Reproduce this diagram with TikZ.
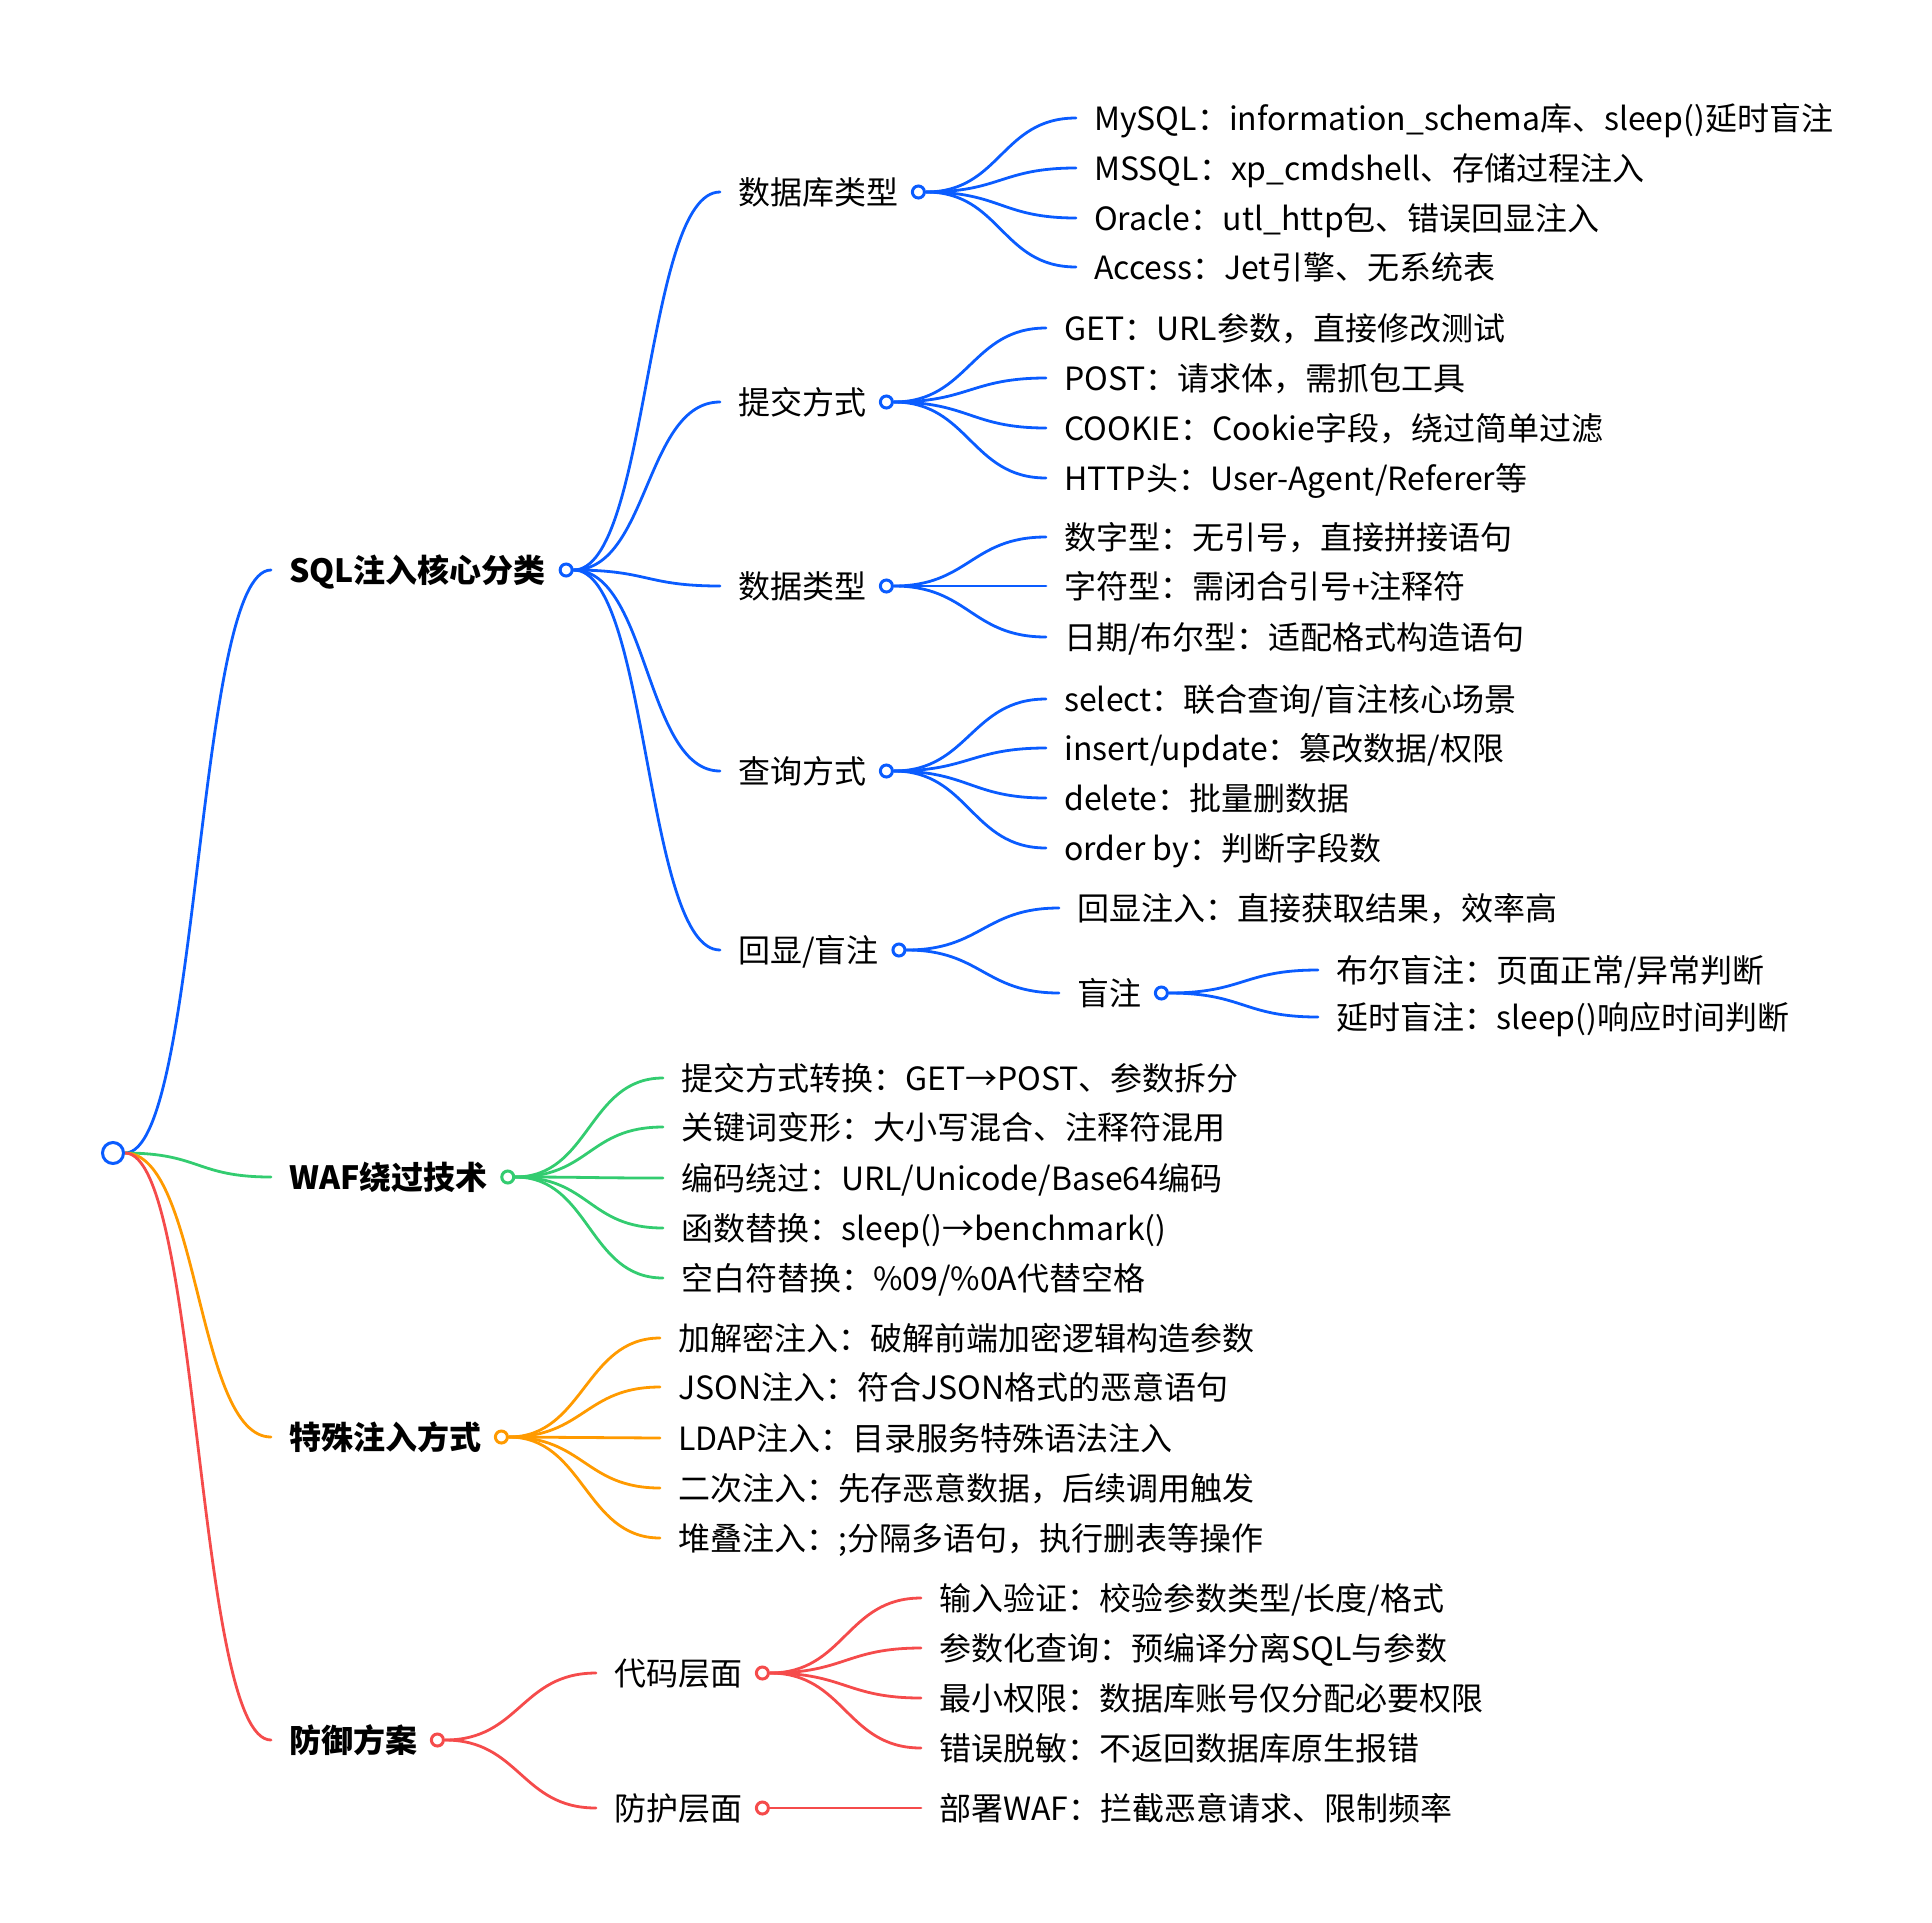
\documentclass[tikz,border=0pt]{standalone}
\usepackage{fontspec}
\setmainfont{Noto Sans CJK SC}
\usetikzlibrary{backgrounds}
\definecolor{mmblue}{HTML}{0A5CFF}
\definecolor{mmgreen}{HTML}{33CC70}
\definecolor{mmorange}{HTML}{FF9A00}
\definecolor{mmred}{HTML}{F54B4B}
\newcommand\mmlink[3]{\draw[link=#1] (#2.east) .. controls +(75,0) and +(-75,0) .. ([xshift=-18pt]#3.west);}
\begin{document}
\begin{tikzpicture}[x=1pt,y=-1pt,
  lbl/.style={anchor=west,inner sep=0pt,text height=28pt,text depth=4pt,font=\fontsize{32}{38}\selectfont},
  head/.style={lbl,font=\fontsize{32}{38}\selectfont\bfseries},
  dot/.style={circle,draw=#1,fill=white,line width=3pt,minimum size=12pt,inner sep=0pt},
  link/.style={draw=#1,line width=2.8pt,line cap=round}]
  \path[use as bounding box] (0,0) rectangle (1932,1922);
  \node[dot=mmblue,minimum size=21pt] (root) at (113,1153) {};

  \node[head] (sql) at (289,570) {SQL注入核心分类};
  \node[dot=mmblue] (sqlc) at ([xshift=20pt]sql.east) {};
  \node[lbl] (dbt) at (738,192) {数据库类型};
  \node[dot=mmblue] (dbtc) at ([xshift=20pt]dbt.east) {};
  \node[lbl] (mysql) at (1094,118) {MySQL：information\_schema库、sleep()延时盲注};
  \node[lbl] (mssql) at (1094,168) {MSSQL：xp\_cmdshell、存储过程注入};
  \node[lbl] (orcl) at (1094,218) {Oracle：utl\_http包、错误回显注入};
  \node[lbl] (acc) at (1094,267) {Access：Jet引擎、无系统表};
  \node[lbl] (sub) at (738,402) {提交方式};
  \node[dot=mmblue] (subc) at ([xshift=20pt]sub.east) {};
  \node[lbl] (get) at (1064,328) {GET：URL参数，直接修改测试};
  \node[lbl] (post) at (1064,378) {POST：请求体，需抓包工具};
  \node[lbl] (cookie) at (1064,428) {COOKIE：Cookie字段，绕过简单过滤};
  \node[lbl] (hdr) at (1064,478) {HTTP头：User-Agent/Referer等};
  \node[lbl] (dat) at (738,586) {数据类型};
  \node[dot=mmblue] (datc) at ([xshift=20pt]dat.east) {};
  \node[lbl] (num) at (1064,537) {数字型：无引号，直接拼接语句};
  \node[lbl] (chr) at (1064,586) {字符型：需闭合引号+注释符};
  \node[lbl] (date) at (1064,637) {日期/布尔型：适配格式构造语句};
  \node[lbl] (qry) at (738,771) {查询方式};
  \node[dot=mmblue] (qryc) at ([xshift=20pt]qry.east) {};
  \node[lbl] (sel) at (1064,699) {select：联合查询/盲注核心场景};
  \node[lbl] (ins) at (1064,748) {insert/update：篡改数据/权限};
  \node[lbl] (del) at (1064,798) {delete：批量删数据};
  \node[lbl] (ord) at (1064,848) {order by：判断字段数};
  \node[lbl] (echo) at (738,950) {回显/盲注};
  \node[dot=mmblue] (echoc) at ([xshift=20pt]echo.east) {};
  \node[lbl] (echoin) at (1077,908) {回显注入：直接获取结果，效率高};
  \node[lbl] (blind) at (1077,993) {盲注};
  \node[dot=mmblue] (blindc) at ([xshift=20pt]blind.east) {};
  \node[lbl] (bool) at (1336,970) {布尔盲注：页面正常/异常判断};
  \node[lbl] (delay) at (1336,1017) {延时盲注：sleep()响应时间判断};

  \node[head] (waf) at (289,1177) {WAF绕过技术};
  \node[dot=mmgreen] (wafc) at ([xshift=20pt]waf.east) {};
  \node[lbl] (w1) at (681,1078) {提交方式转换：GET→POST、参数拆分};
  \node[lbl] (w2) at (681,1127) {关键词变形：大小写混合、注释符混用};
  \node[lbl] (w3) at (681,1178) {编码绕过：URL/Unicode/Base64编码};
  \node[lbl] (w4) at (681,1228) {函数替换：sleep()→benchmark()};
  \node[lbl] (w5) at (681,1278) {空白符替换：\%09/\%0A代替空格};

  \node[head] (spec) at (289,1437) {特殊注入方式};
  \node[dot=mmorange] (specc) at ([xshift=20pt]spec.east) {};
  \node[lbl] (s1) at (678,1338) {加解密注入：破解前端加密逻辑构造参数};
  \node[lbl] (s2) at (678,1387) {JSON注入：符合JSON格式的恶意语句};
  \node[lbl] (s3) at (678,1438) {LDAP注入：目录服务特殊语法注入};
  \node[lbl] (s4) at (678,1488) {二次注入：先存恶意数据，后续调用触发};
  \node[lbl] (s5) at (678,1538) {堆叠注入：;分隔多语句，执行删表等操作};

  \node[head] (def) at (289,1740) {防御方案};
  \node[dot=mmred] (defc) at ([xshift=20pt]def.east) {};
  \node[lbl] (code) at (614,1673) {代码层面};
  \node[dot=mmred] (codec) at ([xshift=20pt]code.east) {};
  \node[lbl] (d1) at (939,1598) {输入验证：校验参数类型/长度/格式};
  \node[lbl] (d2) at (939,1648) {参数化查询：预编译分离SQL与参数};
  \node[lbl] (d3) at (939,1698) {最小权限：数据库账号仅分配必要权限};
  \node[lbl] (d4) at (939,1748) {错误脱敏：不返回数据库原生报错};
  \node[lbl] (guard) at (614,1808) {防护层面};
  \node[dot=mmred] (guardc) at ([xshift=20pt]guard.east) {};
  \node[lbl] (d5) at (939,1808) {部署WAF：拦截恶意请求、限制频率};

  \begin{scope}[on background layer]
    \mmlink{mmblue}{root}{sql}
    \mmlink{mmgreen}{root}{waf}
    \mmlink{mmorange}{root}{spec}
    \mmlink{mmred}{root}{def}
    \mmlink{mmblue}{sqlc}{dbt}
    \mmlink{mmblue}{sqlc}{sub}
    \mmlink{mmblue}{sqlc}{dat}
    \mmlink{mmblue}{sqlc}{qry}
    \mmlink{mmblue}{sqlc}{echo}
    \mmlink{mmblue}{dbtc}{mysql}
    \mmlink{mmblue}{dbtc}{mssql}
    \mmlink{mmblue}{dbtc}{orcl}
    \mmlink{mmblue}{dbtc}{acc}
    \mmlink{mmblue}{subc}{get}
    \mmlink{mmblue}{subc}{post}
    \mmlink{mmblue}{subc}{cookie}
    \mmlink{mmblue}{subc}{hdr}
    \mmlink{mmblue}{datc}{num}
    \mmlink{mmblue}{datc}{chr}
    \mmlink{mmblue}{datc}{date}
    \mmlink{mmblue}{qryc}{sel}
    \mmlink{mmblue}{qryc}{ins}
    \mmlink{mmblue}{qryc}{del}
    \mmlink{mmblue}{qryc}{ord}
    \mmlink{mmblue}{echoc}{echoin}
    \mmlink{mmblue}{echoc}{blind}
    \mmlink{mmblue}{blindc}{bool}
    \mmlink{mmblue}{blindc}{delay}
    \mmlink{mmgreen}{wafc}{w1}
    \mmlink{mmgreen}{wafc}{w2}
    \mmlink{mmgreen}{wafc}{w3}
    \mmlink{mmgreen}{wafc}{w4}
    \mmlink{mmgreen}{wafc}{w5}
    \mmlink{mmorange}{specc}{s1}
    \mmlink{mmorange}{specc}{s2}
    \mmlink{mmorange}{specc}{s3}
    \mmlink{mmorange}{specc}{s4}
    \mmlink{mmorange}{specc}{s5}
    \mmlink{mmred}{defc}{code}
    \mmlink{mmred}{defc}{guard}
    \mmlink{mmred}{codec}{d1}
    \mmlink{mmred}{codec}{d2}
    \mmlink{mmred}{codec}{d3}
    \mmlink{mmred}{codec}{d4}
    \mmlink{mmred}{guardc}{d5}
  \end{scope}
\end{tikzpicture}
\end{document}
